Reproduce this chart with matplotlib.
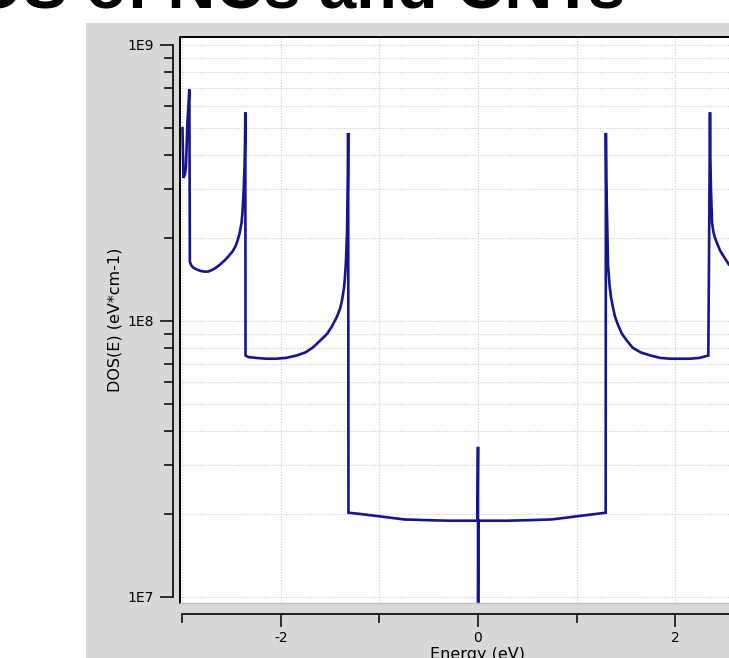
import numpy as np
import matplotlib.pyplot as plt
from matplotlib.patches import Rectangle
from matplotlib.lines import Line2D
from matplotlib.ticker import LogLocator, NullFormatter, FixedLocator

# values
energy = [-3.00, -2.99, -2.975, -2.965, -2.95, -2.93,
          -2.925, -2.91, -2.89, -2.86, -2.82, -2.78, -2.74, -2.70, -2.66, -2.62,
          -2.57, -2.53, -2.49, -2.46, -2.44, -2.42, -2.40, -2.39, -2.38, -2.37,
          -2.365, -2.362,
          -2.360, -2.33, -2.25, -2.15, -2.05, -1.95, -1.84, -1.75, -1.68, -1.60,
          -1.53, -1.48, -1.43, -1.40, -1.38, -1.36, -1.35, -1.34, -1.33, -1.325,
          -1.32, -1.318,
          -1.315, -1.20, -1.05, -0.90, -0.75, -0.55, -0.30, -0.005, 0.0, 0.0,
          0.005, 0.30, 0.55, 0.75, 0.90, 1.05, 1.20, 1.296,
          1.298, 1.302, 1.31, 1.32, 1.335, 1.35, 1.37, 1.39, 1.42, 1.46,
          1.51, 1.57, 1.65, 1.75, 1.85, 1.95, 2.15, 2.25, 2.338,
          2.355, 2.358, 2.365, 2.376, 2.39, 2.406, 2.43, 2.457, 2.50, 2.548,
          2.60, 2.65, 2.70]
dos = [5.0e8, 3.3e8, 3.4e8, 3.6e8, 5.2e8, 6.9e8,
       1.64e8, 1.59e8, 1.56e8, 1.54e8, 1.52e8, 1.51e8, 1.51e8, 1.53e8, 1.56e8, 1.60e8,
       1.66e8, 1.72e8, 1.79e8, 1.87e8, 1.96e8, 2.08e8, 2.27e8, 2.5e8, 2.9e8, 3.6e8,
       4.4e8, 5.7e8,
       7.5e7, 7.4e7, 7.35e7, 7.3e7, 7.3e7, 7.35e7, 7.5e7, 7.7e7, 8.0e7, 8.5e7,
       9.0e7, 9.6e7, 1.04e8, 1.11e8, 1.19e8, 1.32e8, 1.45e8, 1.65e8, 2.08e8, 2.6e8,
       3.4e8, 4.8e8,
       2.02e7, 2.0e7, 1.97e7, 1.94e7, 1.91e7, 1.9e7, 1.89e7, 1.89e7, 3.5e7, 5e6,
       1.89e7, 1.89e7, 1.9e7, 1.91e7, 1.94e7, 1.97e7, 2.0e7, 2.02e7,
       4.8e8, 3.2e8, 2.4e8, 1.6e8, 1.35e8, 1.22e8, 1.12e8, 1.04e8, 9.7e7, 9.0e7,
       8.5e7, 8.0e7, 7.7e7, 7.5e7, 7.35e7, 7.3e7, 7.3e7, 7.35e7, 7.5e7,
       5.7e8, 4.0e8, 3.0e8, 2.27e8, 2.1e8, 2.0e8, 1.9e8, 1.8e8, 1.7e8, 1.6e8,
       1.55e8, 1.52e8, 1.51e8]

y_ticks = [1e7, 1e8, 1e9]
y_tick_labels = ["1E7", "1E8", "1E9"]
x_ticks = [-2, 0, 2]
x_minor = [-3, -1, 1, 3]

title = "DOS of NCs and CNTs"
xlabel = "Energy (eV)"
ylabel = "DOS(E) (eV*cm-1)"

W, H = 729, 658
fig = plt.figure(figsize=(W / 100, H / 100), dpi=100)
fig.patch.set_facecolor("white")

# gray panel behind the plot
fig.patches.append(Rectangle((86 / W, 0), 1, (H - 23) / H, transform=fig.transFigure,
                             facecolor="#d8d8d8", edgecolor="none", zorder=-10))

# big title, mostly cut off at the top
fig.text(625 / W, 1 - 8 / H, title, fontsize=48, fontweight="bold",
         family="Liberation Sans", ha="right", va="baseline", color="black")

left, right = 180, 776
top, bottom = 37, 603
ax = fig.add_axes([left / W, (H - bottom) / H, (right - left) / W, (bottom - top) / H])
ax.set_facecolor("white")
ax.set_yscale("log")
ax.set_xlim(-3.025, 3.025)
ax.set_ylim(10 ** (7 - 6 / 276), 10 ** (9 + 8 / 276))

ax.plot(energy, dos, color="#15158f", lw=1.9, solid_joinstyle="miter", zorder=3)

# ticks and grid
ax.yaxis.set_minor_locator(LogLocator(base=10, subs=np.arange(2, 10)))
ax.yaxis.set_minor_formatter(NullFormatter())
ax.set_yticks(y_ticks, labels=y_tick_labels)
ax.set_xticks(x_ticks, labels=[str(v) for v in x_ticks])
ax.xaxis.set_minor_locator(FixedLocator(x_minor))
ax.grid(True, which="both", color="#cbcbcb", ls=(0, (1, 1.5)), lw=0.8)
ax.set_axisbelow(True)

for s in ax.spines.values():
    s.set_visible(False)
ax.spines["left"].set_visible(True)
ax.spines["bottom"].set_visible(True)
ax.spines["left"].set_position(("outward", 5))
ax.spines["left"].set_bounds(1e7, 1e9)
ax.spines["bottom"].set_position(("outward", 8))
ax.spines["bottom"].set_bounds(-3, 3.025)
for s in ("left", "bottom"):
    ax.spines[s].set_linewidth(1.2)

# plot frame (black left and top edges)
ax.add_line(Line2D([0, 0, 1], [0, 1, 1], transform=ax.transAxes, color="black",
                   lw=1.4, clip_on=False, zorder=4))
ax.add_line(Line2D([0, 1], [0, 0], transform=ax.transAxes, color="#bdbdbd",
                   lw=1.0, clip_on=False, zorder=4))

ax.tick_params(axis="both", which="major", direction="out", length=9.5, width=1.1,
               labelsize=10, color="black")
ax.tick_params(axis="both", which="minor", direction="out", length=6.5, width=1.1,
               color="black")
ax.tick_params(axis="y", pad=4)
ax.tick_params(axis="x", pad=2.5)

ax.set_xlabel(xlabel, fontsize=11.5)
ax.set_ylabel(ylabel, fontsize=11.5)
ax.xaxis.set_label_coords(0.5, (bottom - 647) / (bottom - top))
ax.yaxis.set_label_coords((122 - left) / (right - left), 0.5)

fig.savefig("out.png", dpi=100)
